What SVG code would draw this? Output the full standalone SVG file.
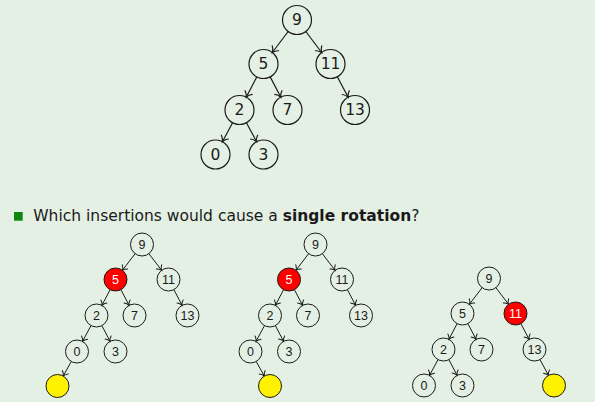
<svg xmlns="http://www.w3.org/2000/svg" width="595" height="402" viewBox="0 0 595 402">
<defs>
<marker id="ah" markerUnits="userSpaceOnUse" markerWidth="14" markerHeight="14" viewBox="-7 -7 14 14" refX="0" refY="0" orient="auto">
<path d="M-5.2,-4 C-3.8,-1.9 -1.4,-0.5 0,0 C-1.4,0.5 -3.8,1.9 -5.2,4" fill="none" stroke="#1a1a1a" stroke-width="1.2" stroke-linecap="round"/>
</marker>
<marker id="ahb" markerUnits="userSpaceOnUse" markerWidth="12" markerHeight="12" viewBox="-6 -6 12 12" refX="0" refY="0" orient="auto">
<path d="M-4.3,-3.4 C-3.1,-1.6 -1.1,-0.4 0,0 C-1.1,0.4 -3.1,1.6 -4.3,3.4" fill="none" stroke="#1a1a1a" stroke-width="1" stroke-linecap="round"/>
</marker>
</defs>
<style>
.bg{fill:#e5f0e5}
.nt circle{fill:none;stroke:#1a1a1a;stroke-width:1.2}
.nt text{font-family:"DejaVu Sans","Liberation Sans",sans-serif;font-size:15.5px;fill:#1a1a1a;text-anchor:middle;dominant-baseline:central}
.nb circle{fill:none;stroke:#1a1a1a;stroke-width:1}
.nb text{font-family:"Liberation Sans",Arial,sans-serif;font-size:12.5px;fill:#1a1a1a;text-anchor:middle;dominant-baseline:central}
.nb.red circle{fill:#ff0000}
.nb.red text{fill:#ffffff}
.nb.yel circle{fill:#fff200}
.et path{fill:none;stroke:#1a1a1a;stroke-width:1.2;marker-end:url(#ah)}
.eb path{fill:none;stroke:#1a1a1a;stroke-width:1;marker-end:url(#ahb)}
.q{font-family:"DejaVu Sans","Liberation Sans",sans-serif;font-size:15.5px;fill:#1a1a1a}
</style>
<rect class="bg" x="0" y="0" width="595" height="402"/>

<!-- top tree -->
<g id="top-tree">
<g id="top-connectors" class="et">
<path d="M288.2,31.5 L272.3,52.5"/>
<path d="M305.8,31.5 L321.7,52.5"/>
<path d="M256.8,76.9 L246.2,97.2"/>
<path d="M270.2,76.9 L280.8,97.2"/>
<path d="M337.3,76.8 L348.2,97.2"/>
<path d="M232.6,122.8 L222.4,141.7"/>
<path d="M246.4,122.8 L256.6,141.7"/>
</g>
<g id="t-9" class="nt"><circle cx="297" cy="20" r="14.5"/><text x="297" y="20">9</text></g>
<g id="t-5" class="nt"><circle cx="263.5" cy="64" r="14.5"/><text x="263.5" y="64">5</text></g>
<g id="t-11" class="nt"><circle cx="330.5" cy="64" r="14.5"/><text x="330.5" y="64">11</text></g>
<g id="t-2" class="nt"><circle cx="239.5" cy="110" r="14.5"/><text x="239.5" y="110">2</text></g>
<g id="t-7" class="nt"><circle cx="287.5" cy="110" r="14.5"/><text x="287.5" y="110">7</text></g>
<g id="t-13" class="nt"><circle cx="355" cy="110" r="14.5"/><text x="355" y="110">13</text></g>
<g id="t-0" class="nt"><circle cx="215.5" cy="154.5" r="14.5"/><text x="215.5" y="154.5">0</text></g>
<g id="t-3" class="nt"><circle cx="263.5" cy="154.5" r="14.5"/><text x="263.5" y="154.5">3</text></g>
</g>

<!-- question -->
<g id="question">
<rect x="14" y="212" width="8.7" height="8.7" fill="#0e860e"/>
<text class="q" x="33.3" y="220.7">Which insertions would cause a <tspan font-weight="bold">single rotation</tspan>?</text>
</g>

<!-- bottom tree 1 -->
<g id="tree-a" transform="translate(142,244.5)">
<g id="a-connectors" class="eb">
<path d="M-6.9,9.2 L-19.6,25.8"/>
<path d="M6.9,9.2 L19.6,25.8"/>
<path d="M-31.9,45.2 L-40.1,60.8"/>
<path d="M-21.1,45.2 L-12.9,60.8"/>
<path d="M31.9,45.2 L40.1,60.8"/>
<path d="M-51,81.1 L-59.5,96.9"/>
<path d="M-40.1,81.2 L-31.9,96.8"/>
<path d="M-70.7,117 L-78.8,131.5"/>
</g>
<g id="a-9" class="nb"><circle cx="0" cy="0" r="11.5"/><text x="0" y="0">9</text></g>
<g id="a-5" class="nb red"><circle cx="-26.5" cy="35" r="11.5"/><text x="-26.5" y="35">5</text></g>
<g id="a-11" class="nb"><circle cx="26.5" cy="35" r="11.5"/><text x="26.5" y="35">11</text></g>
<g id="a-2" class="nb"><circle cx="-45.5" cy="71" r="11.5"/><text x="-45.5" y="71">2</text></g>
<g id="a-7" class="nb"><circle cx="-7.5" cy="71" r="11.5"/><text x="-7.5" y="71">7</text></g>
<g id="a-13" class="nb"><circle cx="45.5" cy="71" r="11.5"/><text x="45.5" y="71">13</text></g>
<g id="a-0" class="nb"><circle cx="-65" cy="107" r="11.5"/><text x="-65" y="107">0</text></g>
<g id="a-3" class="nb"><circle cx="-26.5" cy="107" r="11.5"/><text x="-26.5" y="107">3</text></g>
<g id="a-new" class="nb yel"><circle cx="-84.5" cy="141.5" r="11.5"/></g>
</g>

<!-- bottom tree 2 -->
<g id="tree-b" transform="translate(315.5,244.5)">
<g id="b-connectors" class="eb">
<path d="M-6.9,9.2 L-19.6,25.8"/>
<path d="M6.9,9.2 L19.6,25.8"/>
<path d="M-31.9,45.2 L-40.1,60.8"/>
<path d="M-21.1,45.2 L-12.9,60.8"/>
<path d="M31.9,45.2 L40.1,60.8"/>
<path d="M-51,81.1 L-59.5,96.9"/>
<path d="M-40.1,81.2 L-31.9,96.8"/>
<path d="M-59.3,117 L-51.2,131.5"/>
</g>
<g id="b-9" class="nb"><circle cx="0" cy="0" r="11.5"/><text x="0" y="0">9</text></g>
<g id="b-5" class="nb red"><circle cx="-26.5" cy="35" r="11.5"/><text x="-26.5" y="35">5</text></g>
<g id="b-11" class="nb"><circle cx="26.5" cy="35" r="11.5"/><text x="26.5" y="35">11</text></g>
<g id="b-2" class="nb"><circle cx="-45.5" cy="71" r="11.5"/><text x="-45.5" y="71">2</text></g>
<g id="b-7" class="nb"><circle cx="-7.5" cy="71" r="11.5"/><text x="-7.5" y="71">7</text></g>
<g id="b-13" class="nb"><circle cx="45.5" cy="71" r="11.5"/><text x="45.5" y="71">13</text></g>
<g id="b-0" class="nb"><circle cx="-65" cy="107" r="11.5"/><text x="-65" y="107">0</text></g>
<g id="b-3" class="nb"><circle cx="-26.5" cy="107" r="11.5"/><text x="-26.5" y="107">3</text></g>
<g id="b-new" class="nb yel"><circle cx="-45.5" cy="141.5" r="11.5"/></g>
</g>

<!-- bottom tree 3 -->
<g id="tree-c" transform="translate(489,278.5)">
<g id="c-connectors" class="eb">
<path d="M-6.9,9.2 L-19.6,25.8"/>
<path d="M6.9,9.2 L19.6,25.8"/>
<path d="M-31.9,45.2 L-40.1,60.8"/>
<path d="M-21.1,45.2 L-12.9,60.8"/>
<path d="M31.9,45.2 L40.1,60.8"/>
<path d="M-51,81.1 L-59.5,96.9"/>
<path d="M-40.1,81.2 L-31.9,96.8"/>
<path d="M51,81.1 L59.5,96.9"/>
</g>
<g id="c-9" class="nb"><circle cx="0" cy="0" r="11.5"/><text x="0" y="0">9</text></g>
<g id="c-5" class="nb"><circle cx="-26.5" cy="35" r="11.5"/><text x="-26.5" y="35">5</text></g>
<g id="c-11" class="nb red"><circle cx="26.5" cy="35" r="11.5"/><text x="26.5" y="35">11</text></g>
<g id="c-2" class="nb"><circle cx="-45.5" cy="71" r="11.5"/><text x="-45.5" y="71">2</text></g>
<g id="c-7" class="nb"><circle cx="-7.5" cy="71" r="11.5"/><text x="-7.5" y="71">7</text></g>
<g id="c-13" class="nb"><circle cx="45.5" cy="71" r="11.5"/><text x="45.5" y="71">13</text></g>
<g id="c-0" class="nb"><circle cx="-65" cy="107" r="11.5"/><text x="-65" y="107">0</text></g>
<g id="c-3" class="nb"><circle cx="-26.5" cy="107" r="11.5"/><text x="-26.5" y="107">3</text></g>
<g id="c-new" class="nb yel"><circle cx="65" cy="107" r="11.5"/></g>
</g>
</svg>
